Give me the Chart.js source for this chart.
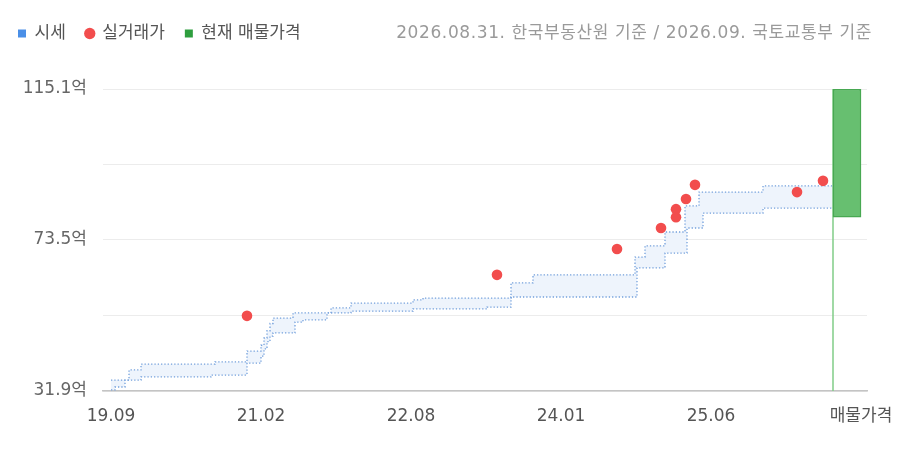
<!DOCTYPE html>
<html>
<head>
<meta charset="utf-8">
<script src="https://cdn.jsdelivr.net/npm/chart.js@4/dist/chart.umd.min.js"></script>
<style>
html,body{margin:0;padding:0;background:#fff;}
#c{display:block;}
</style>
</head>
<body>
<canvas id="c" width="900" height="450"></canvas>
<script>
// x unit: weeks since 2019-09-16
const bandWeeks   = [0, 2, 7, 9, 15, 50, 52, 68, 75, 76.5, 78, 79.5, 81, 91, 92, 96, 108, 110, 120, 151, 156, 188, 200, 211, 262, 263, 267, 277, 287, 288, 294, 296, 326, 361];
const upperValues = [34.9, 34.9, 34.9, 37.7, 39.3, 39.3, 39.9, 42.9, 44.5, 46.5, 48.5, 50.5, 52.0, 53.4, 53.4, 53.4, 53.4, 54.8, 56.1, 57.0, 57.5, 57.5, 61.7, 63.9, 68.8, 68.8, 71.9, 75.7, 82.9, 82.9, 86.7, 86.7, 88.4, 88.4];
const lowerValues = [32.2, 33.0, 34.9, 34.9, 35.8, 36.3, 36.3, 39.6, 41.5, 43.5, 45.5, 47.0, 47.9, 47.9, 50.9, 51.5, 53.4, 53.4, 53.9, 54.5, 54.5, 55.0, 57.8, 57.8, 57.8, 65.8, 65.8, 69.9, 69.9, 76.8, 76.8, 80.9, 82.3, 82.3];

const tradeWeeks  = [68, 193, 253, 275, 282.5, 282.5, 287.5, 292, 343, 356];
const tradeValues = [52.6, 63.9, 71.0, 76.8, 79.8, 82.0, 84.8, 88.7, 86.7, 89.8];

const listingStartWeek = 361;
const listingCenterWeek = 368;
const listingRange = [79.8, 115.1];

const xTickWeeks  = [0, 75, 150, 225, 300, 375];
const xTickLabels = ['19.09', '21.02', '22.08', '24.01', '25.06', '매물가격'];
const yTicks      = [31.9, 52.7, 73.5, 94.3, 115.1];
const yTickLabels = ['31.9억', '', '73.5억', '', '115.1억'];

const legendNames  = ['시세', '실거래가', '현재 매물가격'];
const legendColors = ['#4a8fe7', '#f24d4d', '#2e9e3e'];
const legendShapes = ['rect', 'circle', 'rect'];
const sourceNote = '2026.08.31. 한국부동산원 기준 / 2026.09. 국토교통부 기준';

const FONT = '"DejaVu Sans", "Noto Sans CJK KR", sans-serif';
Chart.defaults.font.family = FONT;
Chart.defaults.font.size = 17;

const pts = (xs, ys) => xs.map((x, i) => ({x: x, y: ys[i]}));

const helperPlugin = {
  id: 'helperPlugin',
  afterInit(chart) {
    const lg = chart.legend;
    if (lg && !lg._patched) {
      const f = lg.fit;
      lg.fit = function () { f.call(this); this.height = 84; };
      lg._patched = true;
    }
  },
  afterDraw(chart) {
    const ctx = chart.ctx;
    ctx.save();
    ctx.font = '17px ' + FONT;
    try { ctx.letterSpacing = '0.6px'; } catch (e) {}
    ctx.fillStyle = '#9a9a9a';
    ctx.textAlign = 'right';
    ctx.textBaseline = 'middle';
    ctx.fillText(sourceNote, 872, 34);
    ctx.restore();
  }
};

new Chart(document.getElementById('c'), {
  type: 'line',
  data: {
    datasets: [
      {
        type: 'line', label: '실거래가', data: pts(tradeWeeks, tradeValues),
        showLine: false, pointRadius: 5.3, pointHoverRadius: 5.3,
        pointBackgroundColor: '#f24d4d', backgroundColor: '#f24d4d', borderColor: '#f24d4d', pointBorderWidth: 0
      },
      {
        type: 'bar', label: '현재 매물가격', data: [{x: listingCenterWeek, y: listingRange}],
        backgroundColor: '#67bf70', borderColor: '#48a852', borderWidth: 1.5, borderSkipped: false, barThickness: 28
      },
      {
        type: 'line', label: '매물 기준', data: [{x: listingStartWeek, y: yTicks[0]}, {x: listingStartWeek, y: yTicks[yTicks.length - 1]}],
        borderColor: '#80cc87', borderWidth: 1.5, pointRadius: 0, fill: false
      },
      {
        type: 'line', label: '시세 상한', data: pts(bandWeeks, upperValues), stepped: true,
        borderColor: '#73a0dc', borderWidth: 1.3, borderDash: [1.3, 2], pointRadius: 0, fill: false
      },
      {
        type: 'line', label: '시세 하한', data: pts(bandWeeks, lowerValues), stepped: true,
        borderColor: '#73a0dc', borderWidth: 1.3, borderDash: [1.3, 2], pointRadius: 0,
        fill: '-1', backgroundColor: '#eef4fc'
      }
    ]
  },
  options: {
    responsive: false,
    animation: false,
    events: [],
    layout: { padding: { left: -2, right: 33, top: 5, bottom: 0 } },
    plugins: {
      tooltip: { enabled: false },
      legend: {
        position: 'top', align: 'start', onClick: null,
        labels: {
          usePointStyle: true, boxWidth: 8, boxHeight: 8, padding: 20, color: '#555',
          font: { size: 17 },
          generateLabels: () => legendNames.map((t, i) => ({
            text: t, fillStyle: legendColors[i], strokeStyle: legendColors[i], lineWidth: 0,
            pointStyle: legendShapes[i], hidden: false, fontColor: '#555'
          }))
        }
      }
    },
    scales: {
      x: {
        type: 'linear', min: -4, max: 378, offset: false,
        grid: { display: false, drawTicks: false },
        border: { display: true, color: '#c4c4c4', width: 1.5 },
        afterBuildTicks: s => { s.ticks = xTickWeeks.map(v => ({value: v})); },
        afterFit: s => { s.height = 59; s.paddingLeft = 0; s.paddingRight = 0; },
        ticks: { autoSkip: false, maxRotation: 0, padding: 15, color: '#555',
          callback: (v, i) => xTickLabels[i] }
      },
      y: {
        type: 'linear', min: 31.9, max: 115.1,
        grid: { color: '#ececec', lineWidth: 1, drawTicks: false },
        border: { display: false },
        afterBuildTicks: s => { s.ticks = yTicks.map(v => ({value: v})); },
        afterFit: s => { s.width = 105; },
        ticks: { padding: 16, color: '#666', callback: (v, i) => yTickLabels[i] }
      }
    }
  },
  plugins: [helperPlugin]
});
</script>
</body>
</html>
